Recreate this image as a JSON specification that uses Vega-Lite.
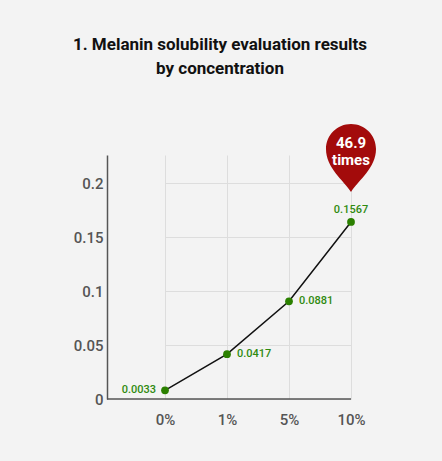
{
  "$schema": "https://vega.github.io/schema/vega-lite/v6.json",
  "autosize": {"type": "none"},
  "padding": {"left": 107, "top": 155, "right": 91, "bottom": 62},
  "width": 244,
  "height": 244,
  "background": "#f3f3f3",
  "title": {
    "text": ["1. Melanin solubility evaluation results", "by concentration"],
    "font": "Roboto",
    "fontSize": 17,
    "fontWeight": "bold",
    "color": "#111111",
    "lineHeight": 24,
    "anchor": "middle",
    "frame": "group",
    "dx": -9,
    "offset": 46
  },
  "datasets": {
    "solubility": [
      {"concentration": "0%", "solubility": 0.0080, "label": "0.0033"},
      {"concentration": "1%", "solubility": 0.0415, "label": "0.0417"},
      {"concentration": "5%", "solubility": 0.0905, "label": "0.0881"},
      {"concentration": "10%", "solubility": 0.1640, "label": "0.1567"}
    ],
    "baseline": [{"level": 0}]
  },
  "layer": [
    {
      "data": {"name": "solubility"},
      "mark": {"type": "line", "color": "#111111", "strokeWidth": 1.5},
      "encoding": {
        "x": {
          "field": "concentration",
          "type": "ordinal",
          "sort": ["0%", "1%", "5%", "10%"],
          "scale": {"type": "point", "range": [58, 244], "padding": 0},
          "axis": {
            "title": null,
            "domain": false,
            "ticks": false,
            "grid": true,
            "gridColor": "#dddddd",
            "labelAngle": 0,
            "labelPadding": 13,
            "labelFont": "Roboto",
            "labelFontSize": 15,
            "labelFontWeight": 500,
            "labelColor": "#555555"
          }
        },
        "y": {
          "field": "solubility",
          "type": "quantitative",
          "scale": {"domain": [0, 0.226], "nice": false},
          "axis": {
            "title": null,
            "values": [0, 0.05, 0.1, 0.15, 0.2],
            "format": "~g",
            "ticks": false,
            "grid": true,
            "gridColor": "#dddddd",
            "domainColor": "#555555",
            "domainWidth": 1.5,
            "labelPadding": 4,
            "labelFont": "Roboto",
            "labelFontSize": 15,
            "labelFontWeight": 500,
            "labelColor": "#555555"
          }
        }
      }
    },
    {
      "data": {"name": "baseline"},
      "mark": {"type": "rule", "color": "#555555", "strokeWidth": 1.5},
      "encoding": {"y": {"field": "level", "type": "quantitative"}}
    },
    {
      "data": {"name": "solubility"},
      "mark": {"type": "point", "filled": true, "color": "#2b8000", "opacity": 1, "size": 60},
      "encoding": {
        "x": {"field": "concentration", "type": "ordinal", "sort": ["0%", "1%", "5%", "10%"]},
        "y": {"field": "solubility", "type": "quantitative"}
      }
    },
    {
      "data": {"name": "solubility"},
      "transform": [{"filter": "datum.concentration === '0%'"}],
      "mark": {"type": "text", "align": "right", "baseline": "middle", "dx": -9, "font": "Roboto", "fontSize": 11, "fontWeight": 500, "color": "#2f8a0f"},
      "encoding": {
        "x": {"field": "concentration", "type": "ordinal", "sort": ["0%", "1%", "5%", "10%"]},
        "y": {"field": "solubility", "type": "quantitative"},
        "text": {"field": "label"}
      }
    },
    {
      "data": {"name": "solubility"},
      "transform": [{"filter": "datum.concentration === '1%' || datum.concentration === '5%'"}],
      "mark": {"type": "text", "align": "left", "baseline": "middle", "dx": 10, "font": "Roboto", "fontSize": 11, "fontWeight": 500, "color": "#2f8a0f"},
      "encoding": {
        "x": {"field": "concentration", "type": "ordinal", "sort": ["0%", "1%", "5%", "10%"]},
        "y": {"field": "solubility", "type": "quantitative"},
        "text": {"field": "label"}
      }
    },
    {
      "data": {"name": "solubility"},
      "transform": [{"filter": "datum.concentration === '10%'"}],
      "mark": {"type": "text", "align": "center", "baseline": "middle", "dy": -12, "font": "Roboto", "fontSize": 11, "fontWeight": 500, "color": "#2f8a0f"},
      "encoding": {
        "x": {"field": "concentration", "type": "ordinal", "sort": ["0%", "1%", "5%", "10%"]},
        "y": {"field": "solubility", "type": "quantitative"},
        "text": {"field": "label"}
      }
    },
    {
      "data": {"name": "solubility"},
      "transform": [{"filter": "datum.concentration === '10%'"}],
      "mark": {
        "type": "point",
        "filled": true,
        "opacity": 1,
        "color": "#a30b0b",
        "size": 2500,
        "yOffset": -73,
        "shape": "M0,1.72 C-0.3,1.25 -1,0.75 -1,0 A1,1 0 1,1 1,0 C1,0.75 0.3,1.25 0,1.72 Z"
      },
      "encoding": {
        "x": {"field": "concentration", "type": "ordinal", "sort": ["0%", "1%", "5%", "10%"]},
        "y": {"field": "solubility", "type": "quantitative"}
      }
    },
    {
      "data": {"name": "solubility"},
      "transform": [{"filter": "datum.concentration === '10%'"}],
      "mark": {
        "type": "text",
        "text": ["46.9", "times"],
        "align": "center",
        "baseline": "middle",
        "lineHeight": 17,
        "yOffset": -79,
        "font": "Roboto",
        "fontSize": 15,
        "fontWeight": "bold",
        "color": "#ffffff"
      },
      "encoding": {
        "x": {"field": "concentration", "type": "ordinal", "sort": ["0%", "1%", "5%", "10%"]},
        "y": {"field": "solubility", "type": "quantitative"}
      }
    }
  ],
  "config": {"view": {"stroke": null}}
}
